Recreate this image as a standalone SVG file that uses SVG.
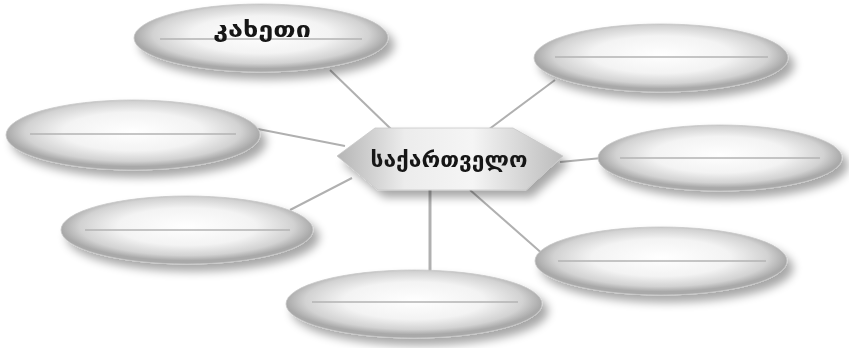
<svg xmlns="http://www.w3.org/2000/svg" width="849" height="348" viewBox="0 0 849 348">
<defs>
<radialGradient id="eg" cx="0.5" cy="0.45" r="0.5">
<stop offset="0" stop-color="#ffffff"/>
<stop offset="0.55" stop-color="#f3f3f3"/>
<stop offset="0.85" stop-color="#d2d2d2"/>
<stop offset="1" stop-color="#a9a9a9"/>
</radialGradient>
<linearGradient id="hg" x1="0" y1="0" x2="1" y2="0">
<stop offset="0" stop-color="#b5b5b5"/>
<stop offset="0.3" stop-color="#ececec"/>
<stop offset="0.6" stop-color="#f5f5f5"/>
<stop offset="1" stop-color="#bcbcbc"/>
</linearGradient>
<filter id="sh" x="-20%" y="-30%" width="150%" height="180%">
<feGaussianBlur in="SourceAlpha" stdDeviation="5"/>
<feOffset dx="6" dy="7" result="b"/>
<feComponentTransfer><feFuncA type="linear" slope="0.35"/></feComponentTransfer>
<feMerge><feMergeNode/><feMergeNode in="SourceGraphic"/></feMerge>
</filter>
</defs>
<style>
.oval{fill:url(#eg);stroke:#c8c8c8;stroke-width:0.8}
.mid{stroke:#b3b3b3;stroke-width:1.5}
.conn{stroke:#b0b0b0;stroke-width:2;fill:none}
.lbl{font-family:"DejaVu Sans","Noto Sans",sans-serif;font-weight:bold;font-size:21px;fill:#141414;text-anchor:middle}
</style>
<rect width="849" height="348" fill="#ffffff"/>
<g id="connectors">
<line class="conn" x1="330" y1="70" x2="392" y2="130"/>
<line class="conn" x1="555" y1="80" x2="488" y2="130"/>
<line class="conn" x1="258" y1="129" x2="345" y2="146"/>
<line class="conn" x1="560" y1="162" x2="602" y2="158"/>
<line class="conn" x1="290" y1="210" x2="352" y2="178"/>
<line class="conn" x1="430" y1="190" x2="430" y2="272" style="stroke-width:3"/>
<line class="conn" x1="470" y1="190" x2="545" y2="256"/>
</g>
<g id="n-kakheti" filter="url(#sh)">
<ellipse class="oval" cx="261" cy="38" rx="127" ry="34"/>
<line class="mid" x1="160" y1="39" x2="362" y2="39"/>
<text class="lbl" x="262" y="37" textLength="98" lengthAdjust="spacingAndGlyphs">კახეთი</text>
</g>
<g id="n-topright" filter="url(#sh)">
<ellipse class="oval" cx="661" cy="58" rx="127" ry="34"/>
<line class="mid" x1="555" y1="57" x2="768" y2="57"/>
</g>
<g id="n-left" filter="url(#sh)">
<ellipse class="oval" cx="133" cy="135" rx="127" ry="35"/>
<line class="mid" x1="30" y1="134" x2="236" y2="134"/>
</g>
<g id="n-right" filter="url(#sh)">
<ellipse class="oval" cx="720" cy="158" rx="122" ry="33"/>
<line class="mid" x1="620" y1="158" x2="820" y2="158"/>
</g>
<g id="n-leftlow" filter="url(#sh)">
<ellipse class="oval" cx="187" cy="230" rx="126" ry="34"/>
<line class="mid" x1="85" y1="230" x2="290" y2="230"/>
</g>
<g id="n-rightlow" filter="url(#sh)">
<ellipse class="oval" cx="661" cy="261" rx="126" ry="34"/>
<line class="mid" x1="558" y1="261" x2="766" y2="261"/>
</g>
<g id="n-bottom" filter="url(#sh)">
<ellipse class="oval" cx="414" cy="304" rx="128" ry="34"/>
<line class="mid" x1="312" y1="302" x2="518" y2="302"/>
</g>
<g id="n-center" filter="url(#sh)">
<polygon points="337,156 375,128 513,128 563,156 526,190 378,190" fill="url(#hg)" stroke="#c8c8c8" stroke-width="0.8"/>
<text class="lbl" x="449" y="167" textLength="157" lengthAdjust="spacingAndGlyphs">საქართველო</text>
</g>
</svg>
